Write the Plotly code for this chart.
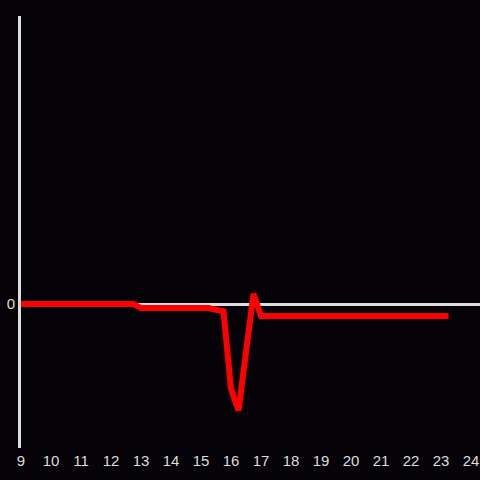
import plotly.graph_objects as go

hours = [9.0, 12.75, 13.0, 15.25, 15.5, 15.75, 16.0, 16.25, 16.75, 17.0, 23.25]
values = [0.0, 0.0, -0.028, -0.028, -0.04, -0.05, -0.59, -0.74, 0.07, -0.083, -0.083]
x_ticks = list(range(9, 25))

fig = go.Figure()
fig.add_trace(go.Scatter(x=hours, y=values, mode="lines",
                         line=dict(color="#ff0000", width=6), hoverinfo="skip"))

fig.update_layout(
    width=480, height=480,
    margin=dict(l=21, r=0, t=16, b=32),
    paper_bgcolor="#050308", plot_bgcolor="#050308",
    showlegend=False,
    font=dict(family="Liberation Sans, Arial, sans-serif", size=15, color="#dddddd"),
    xaxis=dict(range=[9, 24.3], tickvals=x_ticks, ticktext=[str(t) for t in x_ticks],
               showgrid=False, zeroline=False, showline=False, ticks="",
               ticklabelstandoff=2),
    yaxis=dict(range=[-1, 2], tickvals=[0], ticktext=["0"], showgrid=False,
               zeroline=True, zerolinecolor="#dddddd", zerolinewidth=3,
               showline=True, linecolor="#dddddd", linewidth=3, ticks=""),
)
fig.write_html("out.html", config={"displayModeBar": False},
               post_script="document.body.style.margin='0';document.body.style.background='#050308';")
